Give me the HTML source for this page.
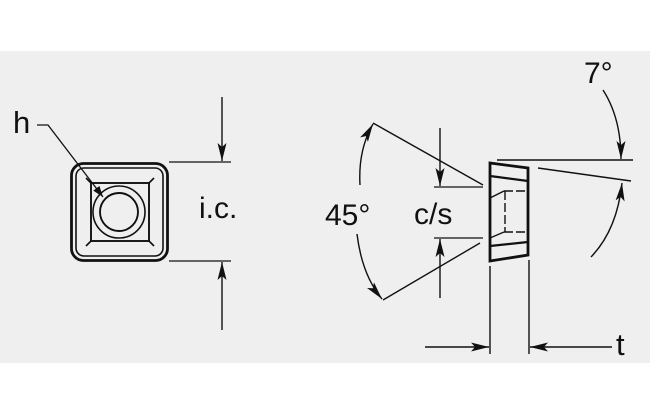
<!DOCTYPE html>
<html><head><meta charset="utf-8"><style>
html,body{margin:0;padding:0;background:#fff;}
svg{display:block;}
text{font-family:"Liberation Sans",Arial,sans-serif;fill:#111;}
</style></head><body>
<svg width="650" height="414" viewBox="0 0 650 414" xmlns="http://www.w3.org/2000/svg">
<defs>
<marker id="a" viewBox="0 0 10 10" refX="10" refY="5" markerWidth="11" markerHeight="11" markerUnits="userSpaceOnUse" orient="auto"><path d="M0,1.5 L10,5 L0,8.5 Z" fill="#111"/></marker>
<marker id="b" viewBox="0 0 18 10" refX="18" refY="5" markerWidth="18" markerHeight="11" markerUnits="userSpaceOnUse" orient="auto"><path d="M0,0.5 L18,5 L0,9.5 L4,5 Z" fill="#111"/></marker>
</defs>
<rect x="0" y="51" width="650" height="312" fill="#efefef"/>
<g fill="none" stroke="#111">
<rect x="71.5" y="163.5" width="96" height="97" rx="12" stroke-width="2.8"/>
<rect x="76" y="168" width="87" height="88" rx="8" stroke-width="1.6"/>
<rect x="91" y="183" width="58" height="58" stroke-width="1.9"/>
<path d="M91,183 L86,178 M149,183 L154,178 M91,241 L86,246 M149,241 L154,246" stroke-width="1.6"/>
<circle cx="119" cy="212" r="26" stroke-width="1.6"/>
<circle cx="119" cy="212" r="19" stroke-width="1.9"/>
<path d="M37,125 L48,125 L103,197" stroke-width="1.3" marker-end="url(#a)"/>
<path d="M169,162 L231,162 M169,261 L231,261" stroke-width="1.3"/>
<path d="M222,97 L222,161" stroke-width="1.4" marker-end="url(#b)"/>
<path d="M222,330 L222,262" stroke-width="1.4" marker-end="url(#b)"/>
<path d="M490,163 L528,168 L528,255 L490,261 Z" stroke-width="2.8"/>
<path d="M490,176 L528,181 M490,246 L528,242" stroke-width="2.2"/>
<path d="M490,198 L504,191 M490,238 L504,232" stroke-width="1.4"/>
<path d="M504,191 L528,191 M504,232 L528,232 M505,191 L505,232" stroke-width="1.4" stroke-dasharray="9,3"/>
<path d="M373,123 L483,185 M383,300 L480,243" stroke-width="1.4"/>
<path d="M434,187 L483,187 M434,238 L483,238" stroke-width="1.3"/>
<path d="M440,128 L440,186" stroke-width="1.4" marker-end="url(#b)"/>
<path d="M440,298 L440,239" stroke-width="1.4" marker-end="url(#b)"/>
<path d="M360,185 Q358,150 373,124" stroke-width="1.4" marker-end="url(#b)"/>
<path d="M357,234 Q362,275 382,299" stroke-width="1.4" marker-end="url(#b)"/>
<path d="M497,160 L633,160 M538,168 L631,181" stroke-width="1.4"/>
<path d="M603,90 Q621,118 621,159" stroke-width="1.4" marker-end="url(#b)"/>
<path d="M591,257 Q617,230 622,183" stroke-width="1.4" marker-end="url(#b)"/>
<path d="M490,266 L490,354 M529,260 L529,354" stroke-width="1.4"/>
<path d="M425,347 L489,347" stroke-width="1.4" marker-end="url(#b)"/>
<path d="M612,347 L530,347" stroke-width="1.4" marker-end="url(#b)"/>
</g>
<text x="13" y="133" font-size="31">h</text>
<text x="199" y="218" font-size="30">i.c.</text>
<text x="325" y="225" font-size="30">45°</text>
<text x="414" y="224" font-size="30">c/s</text>
<text x="584" y="83" font-size="30">7°</text>
<text x="616" y="355" font-size="31">t</text>
</svg>
</body></html>
